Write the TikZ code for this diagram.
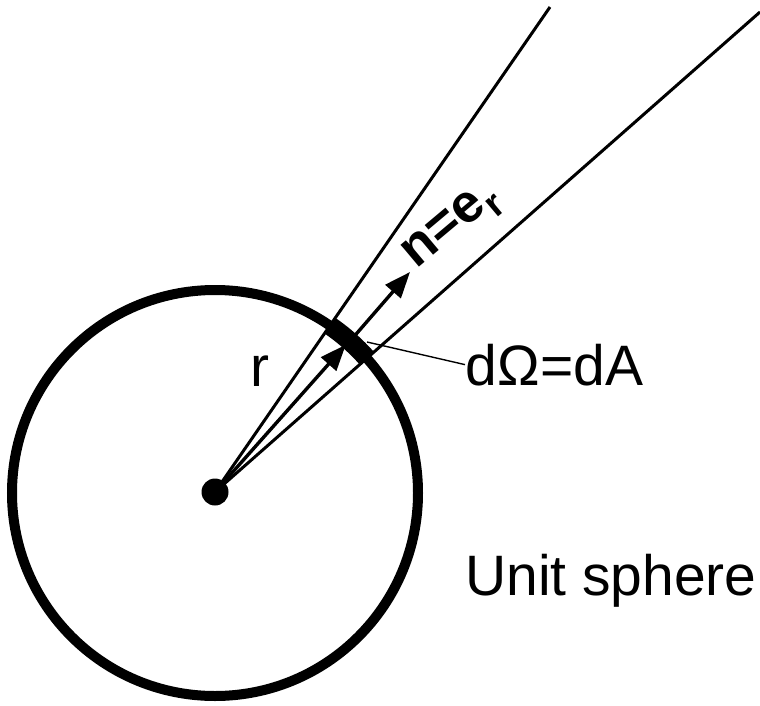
\documentclass[tikz,border=0pt]{standalone}
\usepackage{fontspec}
\setmainfont{Liberation Sans}
\usetikzlibrary{arrows.meta}
\begin{document}
\begin{tikzpicture}[x=1pt,y=-1pt,
  thinline/.style={line width=3pt},
  vecarrow/.style={line width=3.4pt,-{Triangle[length=26pt,width=20pt]}},
  lbl/.style={inner sep=0pt,anchor=base west,font=\fontsize{57}{60}\selectfont}]
\useasboundingbox (0,0) rectangle (760,706);
% sphere
\draw[line width=10pt] (215,493) circle[radius=203];
% center dot
\node[circle,fill=black,minimum size=27pt,inner sep=0pt] (O) at (215,492) {};
% cone lines
\coordinate (L) at (550,7);
\coordinate (R) at (760,12);
\draw[thinline] (O.center) -- (L);
\draw[thinline] (O.center) -- (R);
% dA patch
\draw[line width=19pt] (215,493) ++(-41.5:203) arc[start angle=-41.5,end angle=-55.4,radius=203];
% vectors
\coordinate (A1) at (345.8,344.7);
\coordinate (S) at (349.7,341.5);
\coordinate (A2) at (410,272);
\draw[vecarrow] (O.center) -- (A1);
\draw[vecarrow] (S) -- (A2);
% labels
\node[lbl] (r) at (250,386) {r};
\node[lbl] (dA) at (465,385) {d\kern1pt Ω=dA};
\node[lbl] (us) at (465,595) {Unit sphere};
\node[inner sep=0pt,anchor=base west,rotate=40,font=\fontsize{54}{58}\selectfont\bfseries] (n) at (416,270) {n=e\textsubscript{r}};
% leader
\coordinate (P) at (367,342);
\draw[line width=1.4pt] (P) -- (dA.west);
\end{tikzpicture}
\end{document}
